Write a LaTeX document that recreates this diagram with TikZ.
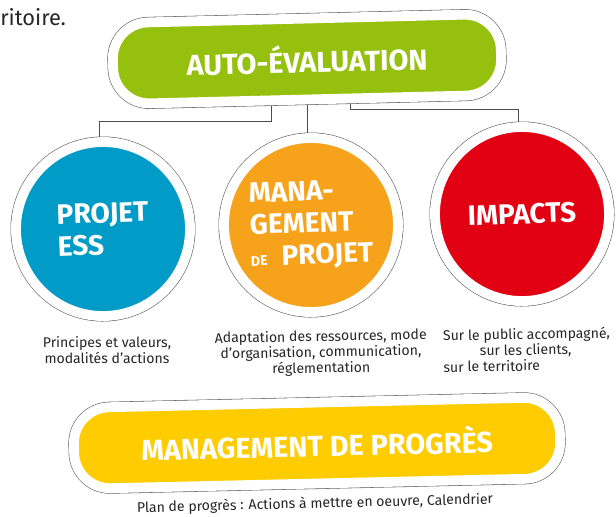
\documentclass[tikz,border=0pt]{standalone}
\usepackage{fontspec}
\setmainfont{Fira Sans}
\usetikzlibrary{positioning,backgrounds,calc}
\definecolor{evalgreen}{RGB}{149,193,14}
\definecolor{essblue}{RGB}{0,155,198}
\definecolor{mgmtorange}{RGB}{246,162,27}
\definecolor{impactred}{RGB}{226,0,19}
\definecolor{progyellow}{RGB}{255,204,0}
\tikzset{
 ring/.style={draw=white, line width=7pt, preaction={draw=black!65, line width=7.8pt}},
 pill/.style={ring, rounded corners=0.9cm, minimum height=2.025cm, text=white, font=\fontsize{20.5}{24}\selectfont\bfseries},
 bubble/.style={ring, circle, minimum size=4.35cm, inner sep=0pt, text=white, align=left, font=\fontsize{20}{22.5}\selectfont\bfseries},
 caption/.style={text=black!85, font=\fontsize{10}{11.2}\selectfont, inner sep=0pt},
 link/.style={draw=black!70, line width=0.5pt}
}
\begin{document}
\begin{tikzpicture}[x=0.025cm, y=-0.025cm]
 \useasboundingbox (0,0) rectangle (616,516);
 \node[anchor=base west, inner sep=0pt, text=black!85, font=\fontsize{15.5}{18}\selectfont] (prev) at (0,25) {ritoire.};
 \node[pill, fill=evalgreen, minimum width=9.7cm, rotate=1.4] (eval) at (307,59) {AUTO-ÉVALUATION\hspace{0.7em}};
 \node[bubble, fill=essblue, rotate=2] (projet) at (103,229) {PROJET\\ESS};
 \node[bubble, fill=mgmtorange, rotate=2] (mgmt) at (311,225) {MANA-\\GEMENT\\{\fontsize{10}{10}\selectfont DE}\hspace{0.5em}PROJET};
 \node[bubble, fill=impactred, rotate=2] (impacts) at (522,214) {IMPACTS};
 \node[caption, align=center] (capess) at (107,350) {Principes et valeurs,\\modalités d’actions};
 \node[caption, align=center, rotate=1] (capmgmt) at (321,353) {Adaptation des ressources, mode\\d’organisation, communication,\\réglementation};
 \node[caption, align=left, anchor=west, rotate=1] (capimp) at (443,351) {Sur le public accompagné,\\\hspace*{2.6em}sur les clients,\\sur le territoire};
 \node[pill, fill=progyellow, minimum width=12.15cm, rotate=1.3] (progres) at (317,443) {MANAGEMENT DE PROGRÈS\hspace{0.85em}};
 \node[caption, rotate=1.4] (capprog) at (315,504) {Plan de progrès : Actions à mettre en oeuvre, Calendrier};
 \begin{scope}[on background layer]
  \fill[white] (0,0) rectangle (616,516);
  \draw[link] ($(eval.south)+(-37,0)$) |- ($(projet.north)+(0,-16)$) -- (projet.north);
  \draw[link] (mgmt.north |- eval.south) -- (mgmt.north);
  \draw[link] ($(eval.south)+(42,0)$) |- ($(impacts.north)+(0,-13)$) -- (impacts.north);
 \end{scope}
\end{tikzpicture}
\end{document}
